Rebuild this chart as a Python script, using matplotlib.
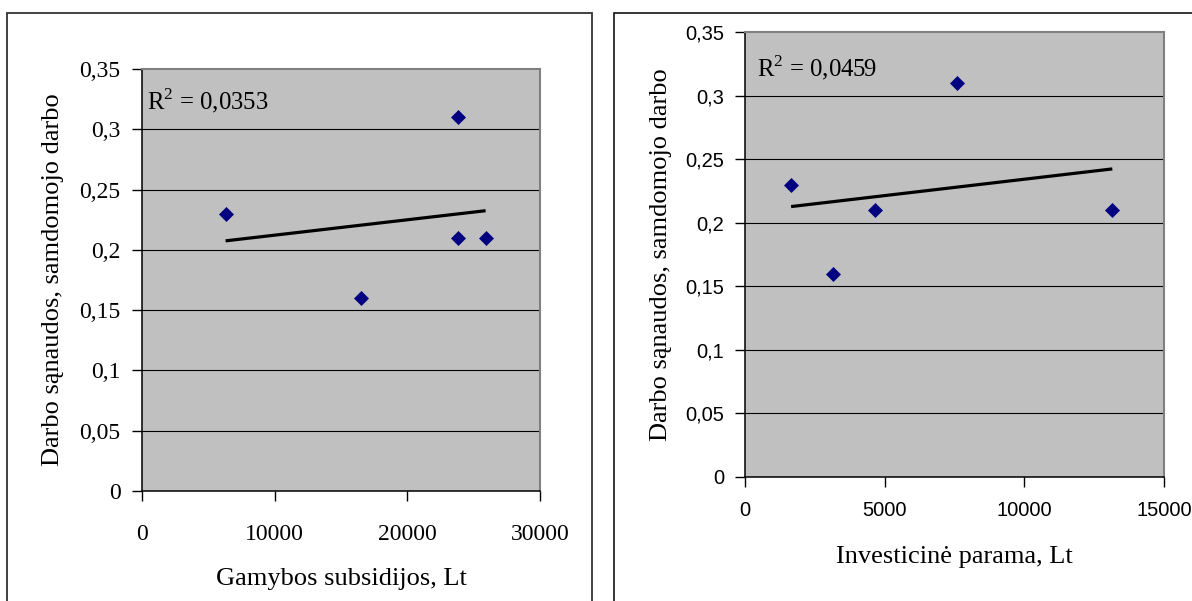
import numpy as np
import matplotlib
matplotlib.use('Agg')
import matplotlib.pyplot as plt
from matplotlib.patches import Rectangle

plt.rcParams['font.family'] = ['Liberation Serif', 'DejaVu Serif']
plt.rcParams['mathtext.fontset'] = 'custom'
plt.rcParams['mathtext.rm'] = 'Liberation Serif'

# duomenys
subsidijos = [6300, 16500, 23800, 23800, 25900]
sanaudos_1 = [0.23, 0.16, 0.31, 0.21, 0.21]
parama = [1650, 3150, 4650, 7600, 13150]
sanaudos_2 = [0.23, 0.16, 0.21, 0.31, 0.21]

y_ticks = [0, 0.05, 0.1, 0.15, 0.2, 0.25, 0.3, 0.35]
y_labels = ['0', '0,05', '0,1', '0,15', '0,2', '0,25', '0,3', '0,35']
x1_ticks = [0, 10000, 20000, 30000]
x2_ticks = [0, 5000, 10000, 15000]
r2_1 = 'R$^{2}$ = 0,0353'
r2_2 = 'R$^{2}$ = 0,0459'
ylab = 'Darbo sąnaudos, samdomojo darbo'

fig = plt.figure(figsize=(11.92, 6.01), dpi=100)

# remeliai aplink abi diagramas
fig.add_artist(Rectangle((7/1192, -0.05), 585/1192, 1.05 - 13/601,
                         transform=fig.transFigure, fill=False, ec='#333333', lw=1.3))
fig.add_artist(Rectangle((614/1192, -0.05), 0.6, 1.05 - 13/601,
                         transform=fig.transFigure, fill=False, ec='black', lw=1.1))


def braizyti(ax, x, y, xticks, xlim, tick_font, tick_size, tick_pad_x, tick_pad_y,
             r2, r2_pos, xlab, xlab_y, ylab_x):
    ax.set_facecolor('#C0C0C0')
    for v in y_ticks[1:-1]:
        ax.axhline(v, color='black', lw=0.8, zorder=1)
    ax.plot(x, y, 'D', color='#000080', ms=7, mew=0.5, zorder=4)
    k, b = np.polyfit(x, y, 1)
    xs = np.array([min(x), max(x)])
    ax.plot(xs, k * xs + b, color='black', lw=2.3, zorder=3, solid_capstyle='butt')
    ax.set_xlim(xlim)
    ax.set_ylim(0, 0.35)
    ax.set_yticks(y_ticks)
    ax.set_yticklabels(y_labels, family=tick_font, fontsize=tick_size)
    ax.set_xticks(xticks)
    ax.set_xticklabels([str(t) for t in xticks], family=tick_font, fontsize=tick_size)
    ax.tick_params(axis='y', length=7, width=1, pad=tick_pad_y)
    ax.tick_params(axis='x', length=7, width=1, pad=tick_pad_x)
    for s in ['top', 'right']:
        ax.spines[s].set_color('#808080')
        ax.spines[s].set_linewidth(1.5)
    for s in ['left', 'bottom']:
        ax.spines[s].set_color('black')
        ax.spines[s].set_linewidth(1.1)
    ax.text(r2_pos[0], r2_pos[1], r2, transform=ax.transAxes, fontsize=17.8,
            va='baseline', ha='left')
    ax.set_xlabel(xlab, fontsize=19)
    ax.xaxis.label.set_va('baseline')
    ax.xaxis.set_label_coords(0.5, xlab_y)
    ax.set_ylabel(ylab, fontsize=19)
    ax.yaxis.label.set_va('center')
    ax.yaxis.set_label_coords(ylab_x, 0.5)


ax1 = fig.add_axes([142/1192, 1 - 491/601, 398/1192, 422/601])
braizyti(ax1, subsidijos, sanaudos_1, x1_ticks, (0, 30000), 'Liberation Serif', 17,
         17, 8.5, r2_1, (0.013, 0.903), 'Gamybos subsidijos, Lt', -0.2227, -0.2236)

ax2 = fig.add_axes([745/1192, 1 - 477/601, 419/1192, 445/601])
braizyti(ax2, parama, sanaudos_2, x2_ticks, (0, 15000), 'Liberation Sans', 14.5,
         10.5, 8, r2_2, (0.029, 0.901), 'Investicinė parama, Lt', -0.1933, -0.2005)

plt.savefig('out.png', dpi=100)
